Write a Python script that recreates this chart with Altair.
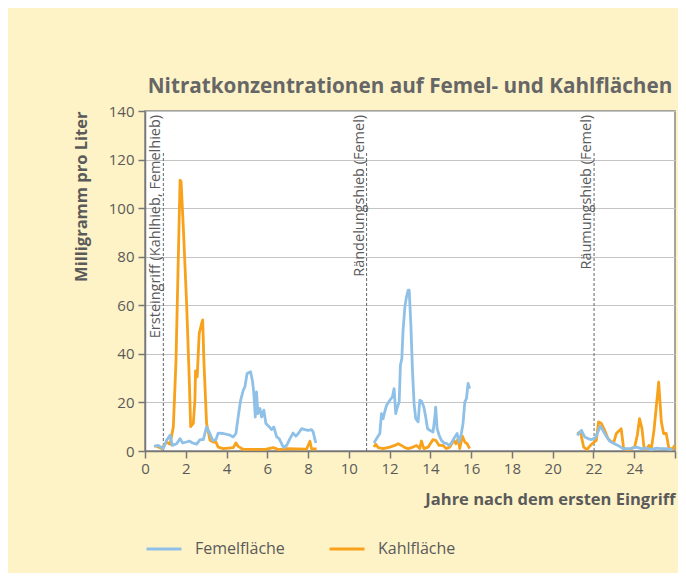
import altair as alt
import pandas as pd

# ---- data ----
fem1_x = [0.44, 0.65, 0.90, 1.06, 1.23, 1.34, 1.55, 1.72, 1.85, 2.04, 2.17, 2.34, 2.53, 2.70, 2.86,
          3.02, 3.15, 3.32, 3.48, 3.59, 3.84, 4.17, 4.33, 4.46, 4.57, 4.69, 4.82, 4.90, 5.01, 5.18,
          5.28, 5.34, 5.41, 5.47, 5.54, 5.64, 5.72, 5.83, 5.93, 6.10, 6.21, 6.32, 6.46, 6.58, 6.70,
          6.81, 6.95, 7.11, 7.27, 7.40, 7.52, 7.68, 7.84, 8.00, 8.17, 8.25, 8.38]
fem1_y = [1.9, 2.3, 1.0, 4.4, 6.5, 2.3, 3.0, 5.1, 3.3, 3.7, 4.1, 3.3, 2.8, 4.7, 4.7,
          9.9, 7.8, 4.4, 4.7, 7.4, 7.2, 6.5, 5.8, 7.2, 14.0, 20.9, 25.0, 26.4, 31.9, 32.6,
          28.4, 23.6, 14.0, 24.3, 15.4, 17.5, 14.0, 16.8, 11.3, 9.9, 8.8, 9.9, 5.8, 5.1, 3.0,
          1.4, 2.3, 5.1, 7.4, 6.1, 7.2, 9.2, 8.8, 8.5, 8.8, 7.8, 3.3]

kahl1_x = [0.49, 0.82, 1.06, 1.23, 1.39, 1.52, 1.63, 1.72, 1.77, 1.88, 2.04, 2.17, 2.24, 2.37,
           2.45, 2.48, 2.56, 2.66, 2.78, 2.83, 2.89, 3.02, 3.19, 3.35, 3.47, 3.59, 3.84, 4.33,
           4.46, 4.57, 4.80, 5.47, 5.90, 6.29, 6.55, 6.95, 7.93, 8.09, 8.17, 8.42]
kahl1_y = [2.3, 1.0, 3.7, 2.8, 10.0, 37.0, 78.0, 111.5, 111.0, 92.0, 61.0, 30.0, 10.0, 11.4,
           21.0, 33.0, 30.5, 48.5, 52.6, 54.0, 37.0, 11.4, 4.4, 3.7, 3.8, 1.6, 1.0, 1.4,
           3.3, 1.9, 0.7, 0.7, 0.7, 1.4, 0.6, 1.0, 0.8, 4.0, 0.9, 0.9]

fem2_x = [11.23, 11.36, 11.52, 11.60, 11.68, 11.76, 11.85, 11.93, 12.01, 12.14, 12.22, 12.30,
          12.38, 12.47, 12.53, 12.60, 12.66, 12.75, 12.83, 12.91, 12.96, 13.04, 13.12, 13.20,
          13.28, 13.40, 13.48, 13.56, 13.68, 13.77, 13.86, 13.97, 14.13, 14.22, 14.26, 14.33,
          14.43, 14.54, 14.67, 14.82, 14.92, 15.03, 15.20, 15.31, 15.41, 15.52, 15.60, 15.69,
          15.77, 15.85, 15.93]
fem2_y = [3.3, 5.1, 7.2, 15.4, 13.3, 16.1, 18.8, 19.8, 20.9, 22.3, 25.7, 15.4,
          18.1, 20.2, 35.3, 38.1, 49.8, 59.4, 63.5, 66.2, 66.2, 52.5, 33.3, 19.5,
          13.3, 12.0, 20.9, 20.6, 18.1, 14.0, 9.2, 8.5, 7.8, 14.0, 18.1, 9.2,
          6.5, 4.4, 3.3, 3.0, 2.3, 3.3, 5.8, 7.2, 3.7, 7.2, 11.3, 20.2,
          21.6, 27.8, 25.7]

kahl2_x = [11.23, 11.32, 11.44, 11.68, 12.01, 12.25, 12.42, 12.58, 12.75, 12.91, 13.15, 13.32,
           13.48, 13.56, 13.68, 13.89, 14.13, 14.26, 14.43, 14.62, 14.78, 14.95, 15.15, 15.25,
           15.36, 15.44, 15.57, 15.69, 15.80, 15.93]
kahl2_y = [1.6, 2.8, 1.4, 1.0, 1.6, 2.3, 3.0, 2.3, 1.4, 1.0, 1.6, 2.3,
           1.0, 4.1, 1.0, 1.6, 4.7, 4.4, 2.3, 2.3, 1.0, 1.6, 4.4, 3.0,
           5.1, 1.0, 6.1, 3.7, 3.0, 1.0]

fem3_x = [21.20, 21.41, 21.57, 21.73, 21.90, 22.10, 22.22, 22.33, 22.46, 22.63, 22.79, 22.96,
          23.20, 23.45, 23.78, 24.10, 24.35, 24.59, 24.84, 25.08, 25.33, 25.57, 25.87]
fem3_y = [6.5, 8.5, 5.8, 5.1, 4.7, 5.5, 7.8, 10.2, 8.5, 6.1, 4.1, 3.3,
          2.3, 1.0, 1.0, 1.6, 1.0, 1.2, 0.6, 1.2, 1.0, 1.0, 0.6]

kahl3_x = [21.20, 21.36, 21.52, 21.68, 21.85, 21.98, 22.14, 22.25, 22.39, 22.55, 22.71, 22.88,
           23.00, 23.12, 23.28, 23.36, 23.48, 23.78, 24.02, 24.15, 24.26, 24.38, 24.48, 24.59,
           24.72, 24.84, 24.97, 25.08, 25.20, 25.33, 25.44, 25.57, 25.70, 25.90, 25.98]
kahl3_y = [7.2, 7.8, 1.6, 0.6, 2.3, 3.3, 4.4, 12.0, 11.3, 8.5, 5.1, 3.7,
           3.7, 7.2, 8.5, 9.2, 1.0, 0.6, 1.6, 6.5, 13.3, 9.2, 1.4, 0.6,
           2.3, 1.0, 8.5, 18.1, 28.4, 12.0, 7.2, 7.2, 1.0, 1.0, 2.3]

series_names = ["Femelfläche", "Kahlfläche"]
series_colors = ["#8fc1e8", "#f8a21c"]

event_x = [0.9, 10.87, 22.03]
event_labels = ["Ersteingriff (Kahlhieb, Femelhieb)", "Rändelungshieb (Femel)", "Räumungshieb (Femel)"]
event_top = 123
label_top = 138.4

x_ticks = list(range(0, 27))
y_ticks = [0, 20, 40, 60, 80, 100, 120, 140]

# ---- tables ----
rows = []
segments = [
    ("Kahlfläche", 1, kahl1_x, kahl1_y), ("Kahlfläche", 2, kahl2_x, kahl2_y), ("Kahlfläche", 3, kahl3_x, kahl3_y),
    ("Femelfläche", 1, fem1_x, fem1_y), ("Femelfläche", 2, fem2_x, fem2_y), ("Femelfläche", 3, fem3_x, fem3_y),
]
for name, seg, xs, ys in segments:
    for xv, yv in zip(xs, ys):
        rows.append({"serie": name, "seg": f"{name}-{seg}", "jahr": xv, "wert": yv})
df = pd.DataFrame(rows)

ev = pd.DataFrame({"jahr": event_x, "label": event_labels,
                   "y0": [0] * 3, "y1": [event_top] * 3, "yl": [label_top] * 3})

gray = "#5a5a5a"

x_scale = alt.Scale(domain=[0, 26], nice=False, zero=False)
y_scale = alt.Scale(domain=[0, 140], nice=False)

x_axis = alt.Axis(values=x_ticks,
                  labelExpr="(datum.value % 2 == 0 && datum.value < 26) ? datum.label : ''",
                  grid=False, title="Jahre nach dem ersten Eingriff", titleAnchor="end",
                  titleFontWeight="bold", titleFontSize=16.5, titleColor=gray, titlePadding=15,
                  labelFontSize=15, labelColor=gray, labelPadding=3, labelFlush=False,
                  tickSize=7, tickColor="#777", tickWidth=1.5, domainColor="#777", domainWidth=1.5)
y_axis = alt.Axis(values=y_ticks, grid=True, gridColor="#c4c4c4", gridWidth=1.2,
                  title="Milligramm pro Liter", titleAnchor="end", titleFontWeight="bold",
                  titleFontSize=16.5, titleColor=gray, titlePadding=19,
                  labelFontSize=15, labelColor=gray, labelPadding=4,
                  tickSize=7, tickColor="#777", tickWidth=1.5, domainColor="#777", domainWidth=1.5)

color = alt.Color("serie:N", scale=alt.Scale(domain=series_names, range=series_colors),
                  legend=alt.Legend(orient="none", legendX=0, legendY=419, direction="horizontal",
                                    title=None, symbolType="stroke", symbolSize=1225,
                                    symbolStrokeWidth=3, labelFontSize=16, labelColor=gray,
                                    labelOffset=12, columnPadding=38))

lines = alt.Chart(df).mark_line(strokeWidth=2.8, strokeJoin="round").encode(
    x=alt.X("jahr:Q", scale=x_scale, axis=x_axis),
    y=alt.Y("wert:Q", scale=y_scale, axis=y_axis),
    color=color,
    detail="seg:N",
)

rules = alt.Chart(ev).mark_rule(color="#666", strokeDash=[3, 2], strokeWidth=1).encode(
    x=alt.X("jahr:Q", scale=x_scale), y=alt.Y("y0:Q", scale=y_scale), y2="y1:Q"
)

texts = alt.Chart(ev).mark_text(angle=270, align="right", baseline="bottom", fontSize=14.5,
                                color=gray, font="Open Sans", dx=0).encode(
    x=alt.X("jahr:Q", scale=x_scale), y=alt.Y("yl:Q", scale=y_scale), text="label:N"
)

chart = alt.layer(rules, texts, lines).properties(
    width=530, height=340,
    title=alt.TitleParams("Nitratkonzentrationen auf Femel- und Kahlflächen", fontSize=20.7,
                          font="Open Sans", fontWeight="bold", color="#666", anchor="middle", offset=6),
    autosize=alt.AutoSizeParams(type="none"),
    padding={"left": 137, "top": 103, "right": 3, "bottom": 122},
    background="#fef3c7",
).configure(font="Open Sans").configure_view(fill="white", stroke="#888", strokeWidth=1.5)

chart.save("out.html", embed_options={"renderer": "svg", "actions": False})
